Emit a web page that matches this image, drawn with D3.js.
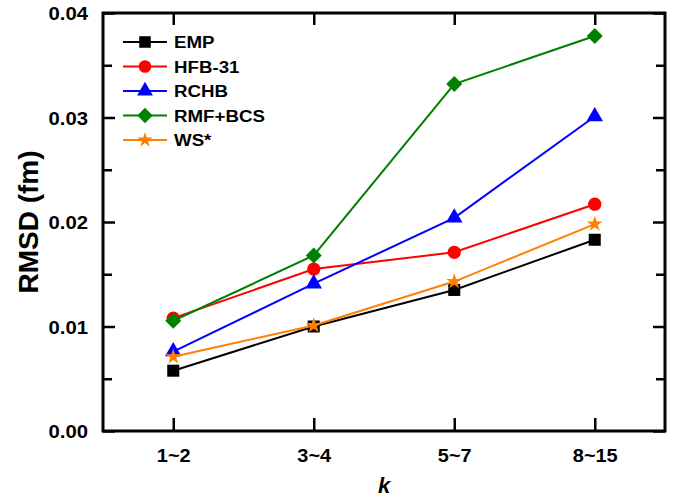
<!DOCTYPE html>
<html>
 <head>
  <script src="https://cdnjs.cloudflare.com/ajax/libs/d3/7.8.3/d3.min.js"></script>
  <style>
   body { margin: 0; background: #fff; }
   text { font-family: Arial, "Liberation Sans", sans-serif; font-weight: bold; }
  </style>
 </head>
 <body>
  <script>
   // data
   const categories = ["1~2", "3~4", "5~7", "8~15"];
   const empValues = [0.00577, 0.0100, 0.0135, 0.0183];
   const hfbValues = [0.0108, 0.0155, 0.0171, 0.0217];
   const rchbValues = [0.0076, 0.0141, 0.0204, 0.0301];
   const rmfValues = [0.01055, 0.0168, 0.0332, 0.0378];
   const wsValues = [0.0071, 0.0101, 0.0143, 0.0198];
   const seriesNames = ["EMP", "HFB-31", "RCHB", "RMF+BCS", "WS*"];
   const yTicks = [0, 0.01, 0.02, 0.03, 0.04];
   const yMinorTicks = [0.005, 0.015, 0.025, 0.035];

   const series = [
    {name: seriesNames[0], values: empValues, color: "#000000", shape: "square"},
    {name: seriesNames[1], values: hfbValues, color: "#ff0000", shape: "circle"},
    {name: seriesNames[2], values: rchbValues, color: "#0000ff", shape: "triangle"},
    {name: seriesNames[3], values: rmfValues, color: "#008000", shape: "diamond"},
    {name: seriesNames[4], values: wsValues, color: "#ff8000", shape: "star"}
   ];

   const w = 685, h = 497;
   const pLeft = 103, pRight = 665, pTop = 13, pBottom = 431;

   const svg = d3.select("body").append("svg")
                 .attr("width", w)
                 .attr("height", h);

   const xScale = d3.scalePoint()
                    .domain(categories)
                    .range([pLeft, pRight])
                    .padding(0.5);
   const yScale = d3.scaleLinear()
                    .domain([0, 0.04])
                    .range([pBottom, pTop]);

   function symbolPath(shape, s) {
    if (shape == "square") return d3.symbol(d3.symbolSquare, 145 * s)();
    if (shape == "circle") return d3.symbol(d3.symbolCircle, 138 * s)();
    if (shape == "triangle") return d3.symbol(d3.symbolTriangle, 118 * s)();
    if (shape == "diamond") return d3.symbol(d3.symbolSquare, 128 * s)();
    if (shape == "star") return d3.symbol(d3.symbolStar, 78 * s)();
   }

   // stretch text a little horizontally, as in the original figure
   function widen(sel, k) {
    sel.each(function() {
     const t = d3.select(this);
     const x = +t.attr("x") || 0;
     t.attr("x", 0).attr("transform", "translate(" + x + ",0) scale(" + k + ",1)");
    });
   }

   // axes (ticks inward)
   const yAxisL = d3.axisLeft(yScale).tickValues(yTicks).tickSize(-12).tickFormat(d3.format(".2f")).tickPadding(15);
   const yMinor = d3.axisLeft(yScale).tickValues(yMinorTicks).tickSize(-9).tickFormat("");
   const yAxisR = d3.axisRight(yScale).tickValues(yTicks).tickSize(-12).tickFormat("");
   const yMinorR = d3.axisRight(yScale).tickValues(yMinorTicks).tickSize(-9).tickFormat("");
   const xAxisB = d3.axisBottom(xScale).tickSize(-13).tickPadding(18);
   const xAxisT = d3.axisTop(xScale).tickSize(-12).tickFormat("");

   const gl = svg.append("g").attr("transform", "translate(" + pLeft + ",0)").call(yAxisL);
   svg.append("g").attr("transform", "translate(" + pLeft + ",0)").call(yMinor);
   svg.append("g").attr("transform", "translate(" + pRight + ",0)").call(yAxisR);
   svg.append("g").attr("transform", "translate(" + pRight + ",0)").call(yMinorR);
   const gb = svg.append("g").attr("transform", "translate(0," + pBottom + ")").call(xAxisB);
   svg.append("g").attr("transform", "translate(0," + pTop + ")").call(xAxisT);

   svg.selectAll(".domain").remove();
   svg.selectAll(".tick line").attr("stroke", "#000").attr("stroke-width", 2.5);
   gl.selectAll("text").attr("font-size", 19).attr("fill", "#000").attr("dy", "0.36em").call(widen, 1.07);
   gb.selectAll("text").attr("font-size", 19).attr("fill", "#000").call(widen, 1.05);

   svg.append("rect")
      .attr("x", pLeft).attr("y", pTop)
      .attr("width", pRight - pLeft).attr("height", pBottom - pTop)
      .attr("fill", "none").attr("stroke", "#000").attr("stroke-width", 3);

   // lines and markers
   const line = d3.line()
                  .x((d, i) => xScale(categories[i]))
                  .y(d => yScale(d));

   series.forEach(s => {
    const g = svg.append("g");
    g.append("path")
     .attr("d", line(s.values))
     .attr("fill", "none")
     .attr("stroke", s.color)
     .attr("stroke-width", 2);
    g.selectAll("path.m")
     .data(s.values)
     .enter()
     .append("path")
     .attr("class", "m")
     .attr("d", symbolPath(s.shape, 1))
     .attr("fill", s.color)
     .attr("transform", (d, i) => "translate(" + xScale(categories[i]) + "," + yScale(d) + ")" + (s.shape == "diamond" ? " rotate(45)" : ""));
   });

   // legend
   const legend = svg.append("g");
   series.forEach((s, i) => {
    const ly = 42 + i * 24.5;
    legend.append("line")
          .attr("x1", 123).attr("x2", 167)
          .attr("y1", ly).attr("y2", ly)
          .attr("stroke", s.color).attr("stroke-width", 2);
    legend.append("path")
          .attr("d", symbolPath(s.shape, 0.92))
          .attr("fill", s.color)
          .attr("transform", "translate(145," + ly + ")" + (s.shape == "diamond" ? " rotate(45)" : ""));
    legend.append("text")
          .attr("x", 0)
          .attr("y", ly)
          .attr("dy", "0.36em")
          .attr("font-size", 17)
          .attr("transform", "translate(174,0) scale(1.1,1)")
          .text(s.name);
   });

   // axis titles
   svg.append("text")
      .attr("transform", "translate(38," + (pTop + pBottom) / 2 + ") rotate(-90)")
      .attr("text-anchor", "middle")
      .attr("font-size", 28)
      .text("RMSD (fm)");
   svg.append("text")
      .attr("x", (pLeft + pRight) / 2)
      .attr("y", 493)
      .attr("text-anchor", "middle")
      .attr("font-size", 22)
      .attr("font-style", "italic")
      .text("k");
  </script>
 </body>
</html>
